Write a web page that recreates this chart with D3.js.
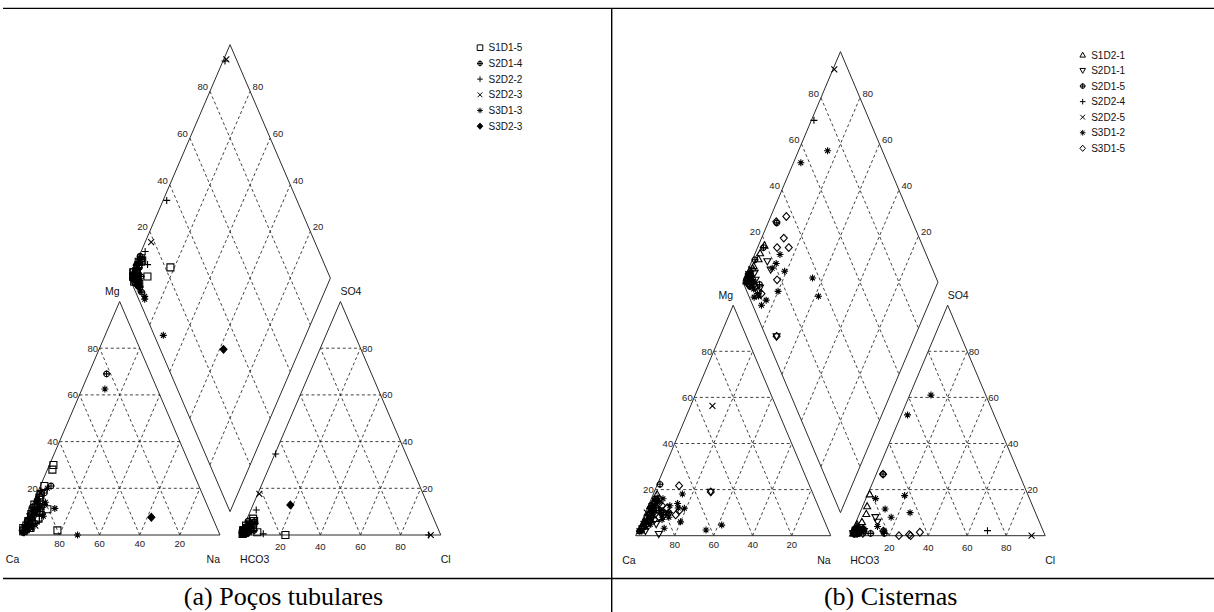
<!DOCTYPE html>
<html>
<head>
<meta charset="utf-8">
<script src="https://cdn.jsdelivr.net/npm/d3@7"></script>
<style>
  html, body { margin: 0; padding: 0; background: #fff; }
  svg { display: block; }
  .tick { font-family: "Liberation Sans", Arial, sans-serif; font-size: 9.5px; fill: #222; }
  .vertex { font-family: "Liberation Sans", Arial, sans-serif; font-size: 10.5px; fill: #111; }
  .legend { font-family: "Liberation Sans", Arial, sans-serif; font-size: 10px; fill: #111; }
  .caption { font-family: "Liberation Serif", "Times New Roman", serif; font-size: 26px; fill: #000; }
</style>
</head>
<body>
<svg id="chart" width="1214" height="612"></svg>
<script>
// Piper diagrams of major ions (% meq/L).
// Every sample row: [Mg, Na+K, SO4, Cl]; Ca = 100 - Mg - Na+K, HCO3 = 100 - SO4 - Cl.
const TICKS = [20, 40, 60, 80];

// ---- (a) Poços tubulares ----
const wellSeries = ["S1D1-5", "S2D1-4", "S2D2-2", "S2D2-3", "S3D1-3", "S3D2-3"];
const wellSymbols = ["square", "circlePlus", "plus", "cross", "asterisk", "diamondFilled"];

const w_S1D1_5 = [
  [30, 2, 3, 2], [28, 2.5, 2, 2.5], [21, 2, 4, 1], [11, 8.5, 1.2, 8], [2, 18, 0, 22.6],
  [16, 2, 2, 3], [15, 2.5, 6, 4], [17, 2, 3, 1.5], [8, 2, 1, 2], [4, 1.5, 1, 1],
  [12, 3, 0.5, 1], [6, 1.5, 2, 0.5], [2, 1, 1.5, 2], [9, 1.5, 4, 3], [5, 2, 5, 4],
  [13, 1, 3, 5], [3, 0.5, 2, 1], [7, 6, 1.5, 2], [10, 5, 2, 1], [3, 4, 1, 1.5],
  [10, 1.5, 7, 3]
];
const w_S2D1_4 = [
  [69, 9, 1, 2], [21, 5.3, 3, 3], [12, 0.5, 5.7, 4.2], [7, 3, 2, 1.5], [14, 2, 1, 2.5],
  [18, 3.5, 3.5, 1], [4, 2, 0.5, 3], [10, 4, 2.5, 2], [1, 1.5, 1, 0.5], [6, 1, 4.5, 2.5],
  [15, 1.5, 2, 6], [2, 0.5, 3, 3], [11, 2.5, 6, 1], [9, 7, 1, 2], [5, 5.5, 2, 1.5],
  [13, 6, 1.5, 1], [8, 2, 5.5, 4.5]
];
const w_S2D2_2 = [
  [19, 1, 0, 94], [9, 1.8, 34.7, 0.4], [15, 2, 10.7, 2.7], [8, 6, 0.5, 11.3],
  [13, 1, 2, 1.5], [5, 2.5, 1, 2], [17, 1.5, 3, 3], [3, 3.5, 2, 1], [7, 1, 5, 5],
  [10, 2, 1, 1], [4, 1, 3.5, 3], [6, 7, 1, 2.5], [11, 4.5, 2, 2]
];
const w_S2D2_3 = [
  [18, 1.3, 0, 95], [9, 3, 17.6, 0.8], [3, 1, 1, 1], [11, 2, 2, 3], [6, 3, 3, 2],
  [1.5, 2, 0.5, 1.5], [8, 1, 4, 4], [14, 2, 5, 2], [2, 2.5, 2, 2], [4, 6, 2, 1],
  [12, 5, 1, 2]
];
const w_S3D1_3 = [
  [62.5, 11.4, 1.5, 2.1], [0, 29, 2, 2.5], [11.4, 12, 1, 2], [2, 3, 1.5, 1],
  [9, 4, 3, 2.5], [5, 1.5, 2.5, 1.5], [20, 4, 1, 4], [7, 2.5, 1, 3], [4, 3, 0.5, 1],
  [12, 3.5, 2, 2], [1, 2, 1, 2.5], [8, 8, 1, 1.5], [3, 5, 2, 2], [14, 6, 2.5, 1]
];
const w_S3D2_3 = [
  [7.6, 62, 12.9, 18.6]
];
const wellData = [w_S1D1_5, w_S2D1_4, w_S2D2_2, w_S2D2_3, w_S3D1_3, w_S3D2_3];

// ---- (b) Cisternas ----
const cisternSeries = ["S1D2-1", "S2D1-1", "S2D1-5", "S2D2-4", "S2D2-5", "S3D1-2", "S3D1-5"];
const cisternSymbols = ["triangleUp", "triangleDown", "circlePlus", "plus", "cross", "asterisk", "diamond"];

const c_S1D2_1 = [
  [16, 3, 18, 1], [14, 2.5, 12.8, 2.3], [12, 3, 9.5, 3.5], [10, 2, 6, 3], [6, 1.5, 3, 2],
  [18, 2, 4, 1.5], [9, 4, 2, 4], [4, 2.5, 1.5, 3], [13, 1, 5, 1], [7, 3, 1, 2.5],
  [3, 1, 2, 1], [11, 2, 3, 5], [8, 1.5, 1, 1], [5, 3.5, 2, 1.5], [15, 2, 2.5, 2]
];
const c_S2D1_1 = [
  [19, 29, 1.5, 4], [0.7, 11.5, 8, 8.9], [5, 8, 6, 11], [11, 6, 3, 4], [3, 2, 1, 1.5],
  [8, 10, 2.5, 5], [15, 3, 1, 3], [6, 4, 2, 6], [12, 2.5, 1.5, 2], [9, 3, 1, 1], [2, 4, 2, 2]
];
const c_S2D1_5 = [
  [22.3, 1.3, 1, 10], [8, 3, 1, 17], [12, 4.5, 26.7, 3.5], [6, 2, 2, 2], [14, 3, 1.5, 3],
  [10, 9, 2, 6], [3, 1.5, 3, 1], [9, 2.5, 1, 4], [2, 1, 2, 2.5], [16, 2, 2, 1],
  [7, 4, 1.5, 3], [12, 1.5, 1, 1.5]
];
const c_S2D2_4 = [
  [14, 1.3, 2.2, 69.3], [5, 2, 2, 1.5], [9, 1.5, 1, 3], [12, 3, 1.5, 2]
];
const c_S2D2_5 = [
  [10, 0.7, 0, 93], [56.3, 11.2, 2, 3], [4, 3, 1, 2], [7, 5, 2.5, 1], [2, 1, 1.5, 3],
  [5, 1.5, 3, 4], [11, 2, 1, 1], [8, 2.5, 2, 2]
];
const c_S3D1_2 = [
  [18.1, 14.9, 61, 10.9], [15, 3.8, 52.4, 3.2], [2.5, 34.8, 17.4, 19.2], [4.6, 41.8, 10, 25.7],
  [11.9, 19, 11.6, 12.1], [3.2, 13, 16.1, 5], [8, 13, 8, 17], [10, 12, 2, 16],
  [12, 15.8, 3, 5], [14, 14.5, 2, 2.5], [6, 20, 4, 12], [9, 9, 1, 1.5],
  [5, 5, 2, 1], [11, 7, 1.5, 2.5], [2, 2, 1, 1], [16, 6, 2, 2], [7, 10, 2, 3],
  [13, 11, 1, 4], [4, 3, 2.5, 2], [10, 4, 3, 1], [6, 2, 1, 2], [13, 3, 2, 1.5]
];
const c_S3D1_5 = [
  [19, 29, 1.5, 4], [21.7, 11.4, 0.5, 30], [10, 4, 26.7, 3.5], [9, 16, 0, 31], [8, 8, 1.5, 35],
  [12, 10, 0, 25], [11, 17, 2, 16], [10, 12, 1, 6], [7, 6, 2, 3], [13, 7, 3, 2],
  [16, 4, 1, 2], [5, 3, 1.5, 1], [9, 10, 2, 4], [4, 1.5, 1, 3], [12, 2, 2, 2.5],
  [8, 4, 1, 1.5], [14, 5, 2, 3]
];
const cisternData = [c_S1D2_1, c_S2D1_1, c_S2D1_5, c_S2D2_4, c_S2D2_5, c_S3D1_2, c_S3D1_5];

// ---- drawing ----
const svg = d3.select("#chart");

// marker outlines, centred on 0,0
function symbolPath(type, r) {
  const k = r * 0.85;
  switch (type) {
    case "square": return `M${-r},${-r}h${2 * r}v${2 * r}h${-2 * r}Z`;
    case "plus": return `M${-r},0H${r}M0,${-r}V${r}`;
    case "cross": return `M${-k},${-k}L${k},${k}M${-k},${k}L${k},${-k}`;
    case "asterisk": return `M${-r},0H${r}M0,${-r}V${r}M${-k * 0.8},${-k * 0.8}L${k * 0.8},${k * 0.8}M${-k * 0.8},${k * 0.8}L${k * 0.8},${-k * 0.8}`;
    case "circlePlus": {
      const c = r * 0.8;
      return `M${c},0A${c},${c} 0 1,1 ${-c},0A${c},${c} 0 1,1 ${c},0ZM${-r * 1.05},0H${r * 1.05}M0,${-r * 1.05}V${r * 1.05}`;
    }
    case "diamond":
    case "diamondFilled": return `M0,${-r * 1.1}L${r},0L0,${r * 1.1}L${-r},0Z`;
    case "triangleUp": return `M0,${-r}L${r},${r * 0.75}L${-r},${r * 0.75}Z`;
    case "triangleDown": return `M0,${r}L${r},${-r * 0.75}L${-r},${-r * 0.75}Z`;
  }
  return "";
}

function drawPiper(layout, names, symbols, data, caption) {
  const g = layout.gap;
  const total = 2 + g;
  const x = d3.scaleLinear().domain([0, total]).range([layout.x0, layout.x0 + layout.side * total]);
  const y = d3.scaleLinear().domain([0, total]).range([layout.baseY, layout.baseY - layout.height * total]);
  const P = (u, v) => [x(u), y(v)];
  const root = svg.append("g");

  const gridG = root.append("g")
    .attr("fill", "none").attr("stroke", "#222").attr("stroke-width", 0.85)
    .attr("stroke-dasharray", "3,2.6");
  const seg = (a, b) => gridG.append("line")
    .attr("x1", a[0]).attr("y1", a[1]).attr("x2", b[0]).attr("y2", b[1]);

  // triangle grids (left: cations, right: anions with offset 1+g)
  [0, 1 + g].forEach(off => {
    TICKS.forEach(t => {
      const k = t / 100;
      seg(P(off + k / 2, k), P(off + 1 - k / 2, k));                 // horizontal
      seg(P(off + k, 0), P(off + k + (1 - k) / 2, 1 - k));            // parallel to left side
      seg(P(off + 1 - k, 0), P(off + (1 - k) / 2, 1 - k));            // parallel to right side
    });
  });
  // diamond grid
  const D = (n, c) => P((1 + g + n + c) / 2, 1 + g + c - n);
  TICKS.forEach(t => {
    const k = t / 100;
    seg(D(0, k), D(1, k));
    seg(D(k, 0), D(k, 1));
  });

  // outlines
  const outline = root.append("g").attr("fill", "none").attr("stroke", "#2b2b2b").attr("stroke-width", 1);
  const poly = pts => outline.append("path").attr("d", "M" + pts.map(p => p.join(",")).join("L") + "Z");
  poly([P(0, 0), P(1, 0), P(0.5, 1)]);
  poly([P(1 + g, 0), P(2 + g, 0), P(1.5 + g, 1)]);
  poly([D(0, 0), D(1, 0), D(1, 1), D(0, 1)]);

  // tick labels
  const tl = root.append("g").attr("class", "tick");
  TICKS.forEach(t => {
    const k = t / 100;
    let p = P(k / 2, k);                               // Mg, left side of cation triangle
    tl.append("text").attr("x", p[0] - 1.5).attr("y", p[1]).attr("dy", "0.35em").attr("text-anchor", "end").text(t);
    p = P(1 - k, 0);                                   // Ca along the base
    tl.append("text").attr("x", p[0]).attr("y", p[1] + layout.caDy).attr("dy", "0.35em").attr("text-anchor", "middle").text(t);
    p = P(1 + g + k, 0);                               // Cl along the base
    tl.append("text").attr("x", p[0]).attr("y", p[1] + layout.clDy).attr("dy", "0.35em").attr("text-anchor", "middle").text(t);
    p = P(1 + g + 1 - k / 2, k);                       // SO4, right side of anion triangle
    tl.append("text").attr("x", p[0] + 1.5).attr("y", p[1]).attr("dy", "0.35em").attr("text-anchor", "start").text(t);
    p = D(0, k);                                       // SO4+Cl, upper-left side of diamond
    tl.append("text").attr("x", p[0] - 2).attr("y", p[1] - 4.3).attr("dy", "0.35em").attr("text-anchor", "end").text(t);
    p = D(1 - k, 1);                                   // Ca+Mg, upper-right side of diamond
    tl.append("text").attr("x", p[0] + 2.5).attr("y", p[1] - 4.3).attr("dy", "0.35em").attr("text-anchor", "start").text(t);
  });

  // vertex labels
  const vl = root.append("g").attr("class", "vertex");
  const vtx = (pt, txt, anchor, dy) => vl.append("text")
    .attr("x", pt[0]).attr("y", pt[1] + dy).attr("dy", "0.35em").attr("text-anchor", anchor).text(txt);
  vtx(P(0.5, 1), "Mg", "end", -9.8);
  vtx(P(1.5 + g, 1), "SO4", "start", -9.8);
  vtx(P(0, 0), "Ca", "end", 24.5);
  vtx(P(1, 0), "Na", "end", 24.5);
  vtx(P(1 + g, 0), "HCO3", "start", 24.5);
  vtx(P(2 + g, 0), "Cl", "start", 24.5);

  // samples: cation point, anion point and projected diamond point
  const pts = root.append("g");
  data.forEach((rows, si) => {
    const sym = symbols[si];
    const filled = sym === "diamondFilled";
    const path = symbolPath(sym, 3.5);
    rows.forEach(r => {
      const mg = r[0] / 100, na = r[1] / 100, so4 = r[2] / 100, cl = r[3] / 100;
      [P(na + mg / 2, mg), P(1 + g + cl + so4 / 2, so4), D(na, so4 + cl)].forEach(p => {
        pts.append("path").attr("d", path)
          .attr("transform", `translate(${p[0]},${p[1]})`)
          .attr("fill", filled ? "#000" : "none")
          .attr("stroke", "#000").attr("stroke-width", 1.1);
      });
    });
  });

  // legend
  const lg = root.append("g");
  names.forEach((nm, i) => {
    const yy = layout.legendY + i * layout.legendStep;
    lg.append("path").attr("d", symbolPath(symbols[i], 2.8))
      .attr("transform", `translate(${layout.legendX},${yy})`)
      .attr("fill", symbols[i] === "diamondFilled" ? "#000" : "none")
      .attr("stroke", "#000").attr("stroke-width", 1);
    lg.append("text").attr("class", "legend")
      .attr("x", layout.legendX + 8.5).attr("y", yy).attr("dy", "0.35em").text(nm);
  });

  svg.append("text").attr("class", "caption")
    .attr("x", layout.captionX).attr("y", 604.5).attr("text-anchor", "middle").text(caption);
}

// frame
svg.append("line").attr("x1", 3).attr("x2", 1214).attr("y1", 8.3).attr("y2", 8.3).attr("stroke", "#000").attr("stroke-width", 1.3);
svg.append("line").attr("x1", 3).attr("x2", 1214).attr("y1", 578.4).attr("y2", 578.4).attr("stroke", "#000").attr("stroke-width", 1.5);
svg.append("line").attr("x1", 611.7).attr("x2", 611.7).attr("y1", 8).attr("y2", 612).attr("stroke", "#000").attr("stroke-width", 1.4);

drawPiper(
  { x0: 19.3, baseY: 535, side: 200.7, height: 233.5, gap: 0.1, caDy: 9, clDy: 12,
    legendX: 480, legendY: 47.7, legendStep: 15.7, captionX: 283.5 },
  wellSeries, wellSymbols, wellData, "(a) Poços tubulares");

drawPiper(
  { x0: 635.7, baseY: 535.7, side: 195, height: 230.5, gap: 0.1, caDy: 9.3, clDy: 11.6,
    legendX: 1082.7, legendY: 55, legendStep: 15.55, captionX: 890.7 },
  cisternSeries, cisternSymbols, cisternData, "(b) Cisternas");
</script>
</body>
</html>
